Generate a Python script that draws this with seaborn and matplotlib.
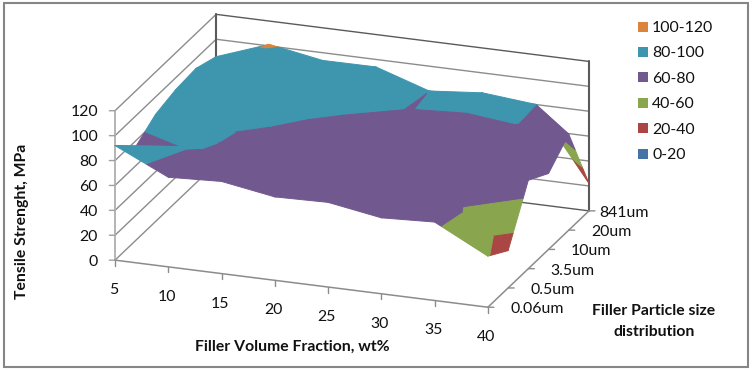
import numpy as np
import seaborn as sns
import matplotlib
matplotlib.use("Agg")
import matplotlib.pyplot as plt
from matplotlib.lines import Line2D
from matplotlib.patches import Rectangle
from mpl_toolkits.mplot3d.art3d import Poly3DCollection
from mpl_toolkits.mplot3d import proj3d

# ---------- data ----------
volume_fraction = [5, 10, 15, 20, 25, 30, 35, 40]
particle_sizes = ["0.06um", "0.5um", "3.5um", "10um", "20um", "841um"]
strength_006um = [92, 72, 74, 67, 68, 61, 63, 41]
strength_05um = [75, 81, 76.5, 72, 70, 66, 66, 30]
strength_35um = [86, 81.5, 78.5, 75, 72, 71, 70, 71]
strength_10um = [90.5, 88, 82, 78, 75, 75, 75, 61]
strength_20um = [92, 93, 88, 83, 79.7, 79, 80.2, 77]
strength_841um = [86, 101.3, 93.8, 94, 80.05, 84, 80.1, 22]
z_ticks = [0, 20, 40, 60, 80, 100, 120]
band_labels = ["0-20", "20-40", "40-60", "60-80", "80-100", "100-120"]
band_colors = ["#4572A7", "#AA4643", "#89A54E", "#71588F", "#3D96AE", "#DB843D"]

grid = np.array([strength_006um, strength_05um, strength_35um,
                 strength_10um, strength_20um, strength_841um])
# cells whose surface fold runs along the other diagonal: (column, row)
flipped_cells = {(0, 1), (5, 4), (6, 4), (6, 0)}

sns.set_theme(style="white")
plt.rcParams["font.family"] = ["Lato", "DejaVu Sans"]
palette = sns.color_palette(band_colors)

W, H = 752, 371
fig = plt.figure(figsize=(W / 100, H / 100), dpi=100, facecolor="white")
ax = fig.add_axes([0.1, 0.1, 0.8, 0.8], projection="3d", computed_zorder=False)
ax.set_proj_type("ortho")
ax.view_init(elev=20.3, azim=-70)
ax.set_box_aspect((396, 295, 159))
ax.set_xlim(5, 40, view_margin=0)
ax.set_ylim(0, 5, view_margin=0)
ax.set_zlim(0, 120, view_margin=0)
ax.set_axis_off()
ax.patch.set_visible(False)


def to_px(x, y, z):
    X, Y, _ = proj3d.proj_transform(x, y, z, ax.get_proj())
    return ax.transData.transform((X, Y))


# Fit the plot box to the reference's pixel corners
a_t = np.array([115.0, H - 260.0])
b_t = np.array([589.0, H - 211.0])
side, cx, cy = 500.0, 350.0, 190.0
for _ in range(4):
    ax.set_position([(cx - side / 2) / W, (cy - side / 2) / H, side / W, side / H])
    ax.apply_aspect()
    a, b = to_px(5, 0, 0), to_px(40, 5, 0)
    k = np.linalg.norm(b_t - a_t) / np.linalg.norm(b - a)
    mid_now = (a + b) / 2
    centre = np.array([cx, cy])
    new_mid = centre + (mid_now - centre) * k
    side *= k
    cx, cy = centre + (a_t + b_t) / 2 - new_mid
ax.set_position([(cx - side / 2) / W, (cy - side / 2) / H, side / W, side / H])
ax.apply_aspect()


# ---------- banded surface ----------
def clip(poly, level, keep_above):
    out = []
    n = len(poly)
    for m in range(n):
        p, q = poly[m], poly[(m + 1) % n]
        pin = p[2] >= level if keep_above else p[2] <= level
        qin = q[2] >= level if keep_above else q[2] <= level
        if pin:
            out.append(p)
        if pin != qin:
            t = (level - p[2]) / (q[2] - p[2])
            out.append(tuple(p[c] + t * (q[c] - p[c]) for c in range(3)))
    return out


polys, colors = [], []
for j in range(len(particle_sizes) - 1):
    for i in range(len(volume_fraction) - 1):
        v = lambda a, b: (volume_fraction[a], b, grid[b, a])
        if (i, j) in flipped_cells:
            tris = ([v(i, j), v(i + 1, j), v(i, j + 1)],
                    [v(i + 1, j), v(i + 1, j + 1), v(i, j + 1)])
        else:
            tris = ([v(i, j), v(i + 1, j), v(i + 1, j + 1)],
                    [v(i, j), v(i, j + 1), v(i + 1, j + 1)])
        for tri in tris:
            for n, col in enumerate(palette):
                piece = clip(tri, z_ticks[n], True)
                if len(piece) >= 3:
                    piece = clip(piece, z_ticks[n + 1], False)
                if len(piece) >= 3:
                    polys.append(piece)
                    colors.append(col)

surface = Poly3DCollection(polys, facecolors=colors, edgecolors=colors,
                           linewidths=0.7, zsort="average", zorder=2)
ax.add_collection3d(surface, autolim=False)

# ---------- walls, axes and ticks ----------
GRID = "#8C8C8C"
DARK = "#5A5A5A"
x0, x1 = volume_fraction[0], volume_fraction[-1]
y1 = len(particle_sizes) - 1
for z in z_ticks:
    back = DARK if z in (0, 120) else GRID
    ax.plot([x0, x1], [y1, y1], [z, z], color=back, lw=1.0, zorder=1)
    ax.plot([x0, x0], [0, y1], [z, z], color=GRID, lw=1.0, zorder=1)
    ax.plot([x0, x0], [0, -0.28], [z, z + 4.3], color="#A0A0A0", lw=1.0, zorder=3)
for x in (x0, x1):
    ax.plot([x, x], [y1, y1], [0, 120], color=DARK, lw=1.5, zorder=1)
ax.plot([x0, x0], [0, 0], [0, 120], color="#B4B4B4", lw=1.4, zorder=1)
ax.plot([x0, x1], [0, 0], [0, 0], color=GRID, lw=1.1, zorder=3)
ax.plot([x1, x1], [0, y1], [0, 0], color=GRID, lw=1.1, zorder=3)
for x in volume_fraction:
    ax.plot([x, x], [0, 0], [0, -4.5], color=GRID, lw=1.0, zorder=3)
for j in range(len(particle_sizes)):
    ax.plot([x1, x1 + 0.56], [j, j], [0, 0.6], color=GRID, lw=1.0, zorder=3)


def label(x, y, z, text, dx, dy, ha):
    X, Y, _ = proj3d.proj_transform(x, y, z, ax.get_proj())
    ax.annotate(text, xy=(X, Y), xytext=(dx, dy), textcoords="offset pixels",
                ha=ha, va="center", fontsize=11.4, color="#111111",
                annotation_clip=False)


for z in z_ticks:
    label(x0, 0, z, str(z), -17, -1.5, "right")
for x in volume_fraction:
    label(x, 0, 0, str(x), -1.5, -30, "center")
for j, name in enumerate(particle_sizes):
    label(x1, j, 0, name, 10 if j == len(particle_sizes) - 1 else 22.5, -2, "left")

# ---------- titles ----------
BOLD = dict(fontweight="bold", fontsize=11.3, color="#111111")
fig.text(292 / W, 1 - 347 / H, "Filler Volume Fraction, wt%", ha="center", va="center", **BOLD)
fig.text(22 / W, 1 - 221 / H, "Tensile Strenght, MPa", rotation=90, ha="center", va="center", **BOLD)
fig.text(654 / W, 1 - 311 / H, "Filler Particle size", ha="center", va="center", **BOLD)
fig.text(654 / W, 1 - 332 / H, "distribution", ha="center", va="center", **BOLD)

# ---------- legend ----------
handles = [Line2D([], [], ls="", marker="s", ms=6.5, color=c, mew=0) for c in palette[::-1]]
fig.legend(handles, band_labels[::-1], loc="upper left",
           bbox_to_anchor=(636.5 / W, 1 - 21 / H), bbox_transform=fig.transFigure,
           frameon=False, fontsize=11.4, labelspacing=0.715, handlelength=0.76,
           handletextpad=0.23, borderpad=0, borderaxespad=0, labelcolor="#111111")

# ---------- chart frame ----------
fig.add_artist(Rectangle((4 / W, 1 - 367 / H), 744 / W, 364 / H, transform=fig.transFigure,
                         fill=False, edgecolor="#868686", lw=1.5))

fig.savefig("out.png", dpi=100, facecolor="white")
